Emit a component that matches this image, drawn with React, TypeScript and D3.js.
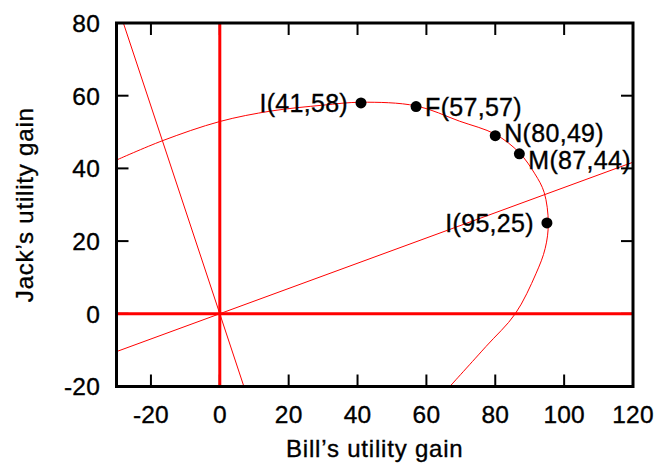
import React, { useEffect, useRef } from "react";
import * as d3 from "d3";

// axis ticks
const xTicks = [-20, 0, 20, 40, 60, 80, 100, 120];
const yTicks = [-20, 0, 20, 40, 60, 80];

// utility frontier
const frontier: [number, number][] = [
  [-30, 42.3],
  [-16.7, 47.6],
  [0, 52.9],
  [15, 55.8],
  [30, 57.4],
  [41, 58.2],
  [57, 57.2],
  [69.6, 53],
  [80, 49.4],
  [87, 44.3],
  [91.5, 38.5],
  [94.2, 33.4],
  [95.4, 25],
  [94.5, 18],
  [91.8, 11],
  [85.8, 0],
  [77.3, -9],
  [66.8, -20],
];

// thin lines through the origin
const steepLine: [number, number][] = [
  [-28, 80],
  [7, -20],
];
const flatLine: [number, number][] = [
  [-30, -10.4],
  [120, 41.7],
];

// labelled outcomes
const pointNames = ["I(41,58)", "F(57,57)", "N(80,49)", "M(87,44)", "I(95,25)"];
const pointX = [41, 57, 80, 87, 95];
const pointY = [58, 57, 49, 44, 25];
const pointSide = ["left", "right", "right", "right", "left"];

const App = () => {
  const svgRef = useRef<SVGSVGElement>(null);

  useEffect(() => {
    const width = 661;
    const height = 469;
    const margin = { top: 23, right: 28, bottom: 82.5, left: 116.5 };
    const font = "'Liberation Sans', Arial, Helvetica, sans-serif";

    const svg = d3
      .select(svgRef.current)
      .attr("width", width)
      .attr("height", height)
      .style("font-family", font)
      .style("background", "#fff");

    svg.selectAll("*").remove();

    const x = d3
      .scaleLinear()
      .domain([-30, 120])
      .range([margin.left, width - margin.right]);
    const y = d3
      .scaleLinear()
      .domain([-20, 80])
      .range([height - margin.bottom, margin.top]);

    const [x0, x1] = x.range();
    const [y0, y1] = y.range();

    svg
      .append("defs")
      .append("clipPath")
      .attr("id", "plot-clip")
      .append("rect")
      .attr("x", x0)
      .attr("y", y1)
      .attr("width", x1 - x0)
      .attr("height", y0 - y1);

    // ticks (inward, mirrored)
    const tickLen = 12;
    const ticks = svg.append("g").attr("stroke", "#000").attr("stroke-width", 2);
    xTicks.forEach((t) => {
      ticks.append("line").attr("x1", x(t)).attr("x2", x(t)).attr("y1", y0).attr("y2", y0 - tickLen);
      ticks.append("line").attr("x1", x(t)).attr("x2", x(t)).attr("y1", y1).attr("y2", y1 + tickLen);
    });
    yTicks.forEach((t) => {
      ticks.append("line").attr("x1", x0).attr("x2", x0 + tickLen).attr("y1", y(t)).attr("y2", y(t));
      ticks.append("line").attr("x1", x1).attr("x2", x1 - tickLen).attr("y1", y(t)).attr("y2", y(t));
    });

    const plot = svg.append("g").attr("clip-path", "url(#plot-clip)");

    // axes through origin
    plot
      .append("line")
      .attr("x1", x(0))
      .attr("x2", x(0))
      .attr("y1", y1)
      .attr("y2", y0)
      .attr("stroke", "#ff0000")
      .attr("stroke-width", 3);
    plot
      .append("line")
      .attr("x1", x0)
      .attr("x2", x1)
      .attr("y1", y(0))
      .attr("y2", y(0))
      .attr("stroke", "#ff0000")
      .attr("stroke-width", 3);

    const line = d3
      .line<[number, number]>()
      .x((d) => x(d[0]))
      .y((d) => y(d[1]));

    [steepLine, flatLine].forEach((l) => {
      plot
        .append("path")
        .attr("d", line(l))
        .attr("fill", "none")
        .attr("stroke", "#ff0000")
        .attr("stroke-width", 1);
    });

    plot
      .append("path")
      .attr("d", line.curve(d3.curveCatmullRom.alpha(0.5))(frontier))
      .attr("fill", "none")
      .attr("stroke", "#ff0000")
      .attr("stroke-width", 1);

    const textStyle = (sel: any, size: number, spacing: number) =>
      sel
        .style("font-size", `${size}px`)
        .style("letter-spacing", `${spacing}px`)
        .attr("fill", "#000")
        .attr("stroke", "#000")
        .attr("stroke-width", 0.35);

    // points and labels (M label sits a little lower, N a little higher)
    const labelShift = [0, 0, -2.5, 6, 0];
    pointNames.forEach((name, i) => {
      const px = x(pointX[i]);
      const py = y(pointY[i]);
      svg.append("circle").attr("cx", px).attr("cy", py).attr("r", 5.5).attr("fill", "#000");
      const left = pointSide[i] === "left";
      svg
        .append("text")
        .attr("x", left ? px - 13 : px + 9)
        .attr("y", py + labelShift[i])
        .attr("dy", "0.36em")
        .attr("text-anchor", left ? "end" : "start")
        .call(textStyle, 25, 0.3)
        .text(name);
    });

    // frame
    svg
      .append("rect")
      .attr("x", x0)
      .attr("y", y1)
      .attr("width", x1 - x0)
      .attr("height", y0 - y1)
      .attr("fill", "none")
      .attr("stroke", "#000")
      .attr("stroke-width", 3);

    // tick labels
    svg
      .append("g")
      .selectAll("text")
      .data(xTicks)
      .join("text")
      .attr("x", (d) => x(d))
      .attr("y", 423)
      .attr("text-anchor", "middle")
      .call(textStyle, 24.5, 0.2)
      .text((d) => d);

    svg
      .append("g")
      .selectAll("text")
      .data(yTicks)
      .join("text")
      .attr("x", 100)
      .attr("y", (d) => y(d))
      .attr("dy", "0.36em")
      .attr("text-anchor", "end")
      .call(textStyle, 24.5, 0.2)
      .text((d) => d);

    // axis titles
    svg
      .append("text")
      .attr("x", (x0 + x1) / 2)
      .attr("y", 457)
      .attr("text-anchor", "middle")
      .call(textStyle, 24, 0.8)
      .text("Bill\u2019s utility gain");

    svg
      .append("text")
      .attr("transform", `translate(33, ${(y0 + y1) / 2}) rotate(-90)`)
      .attr("text-anchor", "middle")
      .call(textStyle, 24, 0.8)
      .text("Jack\u2019s utility gain");
  }, []);

  return (
    <svg
      ref={svgRef}
      style={{ position: "absolute", left: 0, top: 0, display: "block" }}
    ></svg>
  );
};

export default App;
